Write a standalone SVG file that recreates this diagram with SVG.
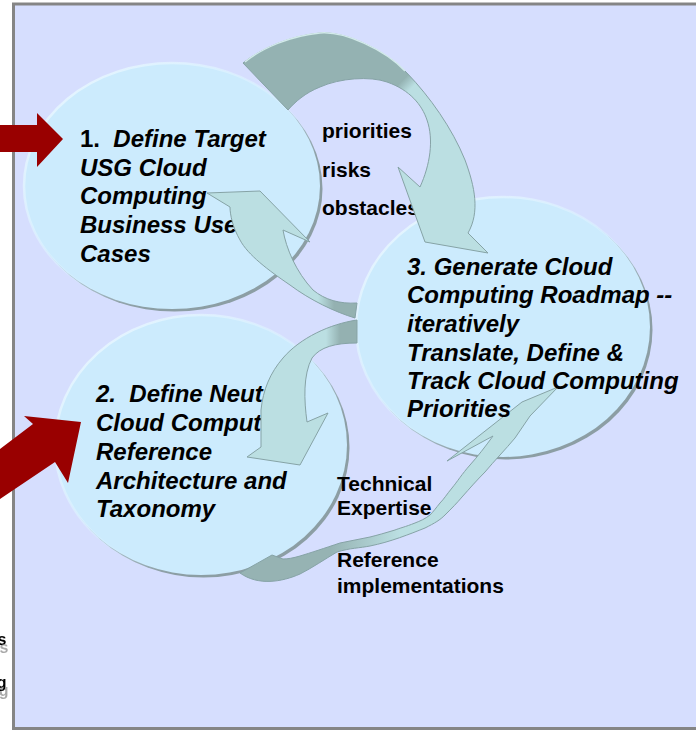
<svg xmlns="http://www.w3.org/2000/svg" width="696" height="730" viewBox="0 0 696 730">
  <style>
    .main { font-family: "Liberation Sans", Arial, sans-serif; font-size: 24px; font-weight: bold; font-style: italic; fill: #000; }
    .up { font-style: normal; }
    .lbl { font-family: "Liberation Sans", Arial, sans-serif; font-size: 21px; font-weight: bold; fill: #000; }
    .frag { font-family: "Liberation Sans", Arial, sans-serif; font-size: 16px; font-weight: bold; fill: #000; filter: url(#drop); }
    .shadow { fill: #8C9EA4; }
    .disc { fill: #CCEBFD; stroke: url(#rim); stroke-width: 2.5; }
    .red { fill: #990000; }
    .arrow { stroke: #86A3A6; stroke-width: 1; stroke-linejoin: round; }
  </style>
  <defs>
    <filter id="drop" x="-1" y="-1" width="3" height="3">
      <feOffset in="SourceAlpha" dx="2" dy="8" result="off"/>
      <feFlood flood-color="#A8A8A8"/>
      <feComposite in2="off" operator="in" result="sh"/>
      <feMerge><feMergeNode in="sh"/><feMergeNode in="SourceGraphic"/></feMerge>
    </filter>
    <linearGradient id="rim" x1="0" y1="0" x2="1" y2="1">
      <stop offset="0" stop-color="#EAF8FF" stop-opacity="1"/>
      <stop offset="0.45" stop-color="#DDF2FF" stop-opacity="0.6"/>
      <stop offset="0.7" stop-color="#CCEBFD" stop-opacity="0"/>
    </linearGradient>
    <linearGradient id="gTop" gradientUnits="userSpaceOnUse" x1="380" y1="50" x2="440" y2="110">
      <stop offset="0" stop-color="#94B2B2"/>
      <stop offset="0.44" stop-color="#94B2B2"/>
      <stop offset="0.58" stop-color="#BBDFE2"/>
      <stop offset="1" stop-color="#BBDFE2"/>
    </linearGradient>
    <linearGradient id="gA2" gradientUnits="userSpaceOnUse" x1="318" y1="0" x2="334" y2="0">
      <stop offset="0" stop-color="#BBDFE2"/>
      <stop offset="1" stop-color="#94B1B1"/>
    </linearGradient>
    <linearGradient id="gA3" gradientUnits="userSpaceOnUse" x1="326" y1="0" x2="340" y2="0">
      <stop offset="0" stop-color="#BBDFE2"/>
      <stop offset="1" stop-color="#94B1B1"/>
    </linearGradient>
    <linearGradient id="gBot" gradientUnits="userSpaceOnUse" x1="330" y1="0" x2="400" y2="0">
      <stop offset="0" stop-color="#96B3B3"/>
      <stop offset="1" stop-color="#BBDFE2"/>
    </linearGradient>
  </defs>

  <!-- frame -->
  <rect x="0" y="0" width="696" height="730" fill="#FFFFFF"/>
  <rect x="13.5" y="4" width="700" height="724.5" fill="#D6DEFE" stroke="#858585" stroke-width="3"/>

  <!-- fragments at left edge -->
  <g id="fragments">
    <text class="frag" x="6.5" y="645" text-anchor="end">s</text>
    <text class="frag" x="6.5" y="688" text-anchor="end">g</text>
  </g>

  <!-- node 1 -->
  <g id="node1">
    <ellipse class="shadow" cx="174.5" cy="188.5" rx="148" ry="123"/>
    <ellipse class="disc" cx="172" cy="186" rx="148" ry="123"/>
    <text class="main" xml:space="preserve"><tspan x="80" y="147"><tspan class="up">1.  </tspan>Define Target</tspan><tspan x="80" y="176">USG Cloud</tspan><tspan x="80" y="204">Computing</tspan><tspan x="80" y="233">Business Use</tspan><tspan x="80" y="262">Cases</tspan></text>
  </g>

  <!-- node 2 -->
  <g id="node2">
    <ellipse class="shadow" cx="203.5" cy="447.5" rx="146" ry="130"/>
    <ellipse class="disc" cx="201" cy="445" rx="146" ry="130"/>
    <text class="main" xml:space="preserve"><tspan x="96" y="402">2.  Define Neutral</tspan><tspan x="96" y="431">Cloud Computing</tspan><tspan x="96" y="460">Reference</tspan><tspan x="96" y="489">Architecture and</tspan><tspan x="96" y="517">Taxonomy</tspan></text>
  </g>

  <!-- node 3 shape -->
  <g id="node3">
    <ellipse class="shadow" cx="505.5" cy="329.5" rx="147" ry="130"/>
    <ellipse class="disc" cx="503" cy="327" rx="147" ry="130"/>
  </g>

  <!-- connector labels -->
  <g id="labels">
    <text class="lbl" x="322" y="138">priorities</text>
    <text class="lbl" x="322" y="177">risks</text>
    <text class="lbl" x="322" y="215">obstacles</text>
    <text class="lbl" x="337" y="491">Technical</text>
    <text class="lbl" x="337" y="515">Expertise</text>
    <text class="lbl" x="337" y="567">Reference</text>
    <text class="lbl" x="337" y="593">implementations</text>
  </g>

  <!-- connectors -->
  <g id="connectors">
    <!-- 3 -> 1 -->
    <path class="arrow" fill="url(#gA2)" d="M207,193 L260,191 L310,242 L283,230 C286,248 296,272 313,290 C325,300 340,304 357,303 L355,318 C335,312 310,300 290,285 C268,270 248,255 240,240 C233,228 230,215 230,207 Z"/>
    <!-- 3 -> 2 -->
    <path class="arrow" fill="url(#gA3)" d="M357,320 C330,324 300,338 283,358 C270,373 263,390 261,410 L261,447 L247,457 L300,465 L328,413 L307,422 C304,400 303,375 312,358 C320,347 335,343 357,343 Z"/>
    <!-- 1 -> 3 (top) -->
    <path class="arrow" fill="url(#gTop)" d="M243,63 C262,48 290,36 320,33 C345,31 385,50 407,73 C430,97 452,128 465,160 C475,187 480,212 468,233 L488,253 L425,242 L398,167 L420,187 C430,165 434,140 427,120 C422,105 410,90 387,82 C370,76 340,78 320,87 C305,93 295,102 288,110 Z"/>
    <path d="M245,62 C262,48 290,36 320,33 C345,31 385,50 405,71" fill="none" stroke="#D2EAEA" stroke-width="1.5"/>
    <!-- 2 -> 3 (bottom) -->
    <path class="arrow" fill="url(#gBot)" d="M240,573 C258,586 282,582 300,574 C312,568 325,559 337,552 C350,548 360,548 370,546 C390,542 410,534 425,528 C435,523 440,520 445,515 C452,508 457,503 462,497 C470,488 477,480 485,472 C495,460 505,450 515,438 L530,416 L558,387 L522,402 L447,461 L493,436 C485,447 478,456 470,465 C462,474 457,482 452,488 C447,494 444,499 440,503 C436,508 433,512 430,515 C425,519 420,521 415,523 C405,527 400,528 395,530 C385,533 378,535 370,537 C360,539 350,541 340,543 C325,548 310,553 300,556 C293,558 288,559 283,559 L272,555 Z"/>
  </g>

  <!-- node 3 text -->
  <g id="node3-text">
    <text class="main"><tspan x="407" y="275">3. Generate Cloud</tspan><tspan x="407" y="303">Computing Roadmap --</tspan><tspan x="407" y="332">iteratively</tspan><tspan x="407" y="361">Translate, Define &amp;</tspan><tspan x="407" y="389">Track Cloud Computing</tspan><tspan x="407" y="417">Priorities</tspan></text>
  </g>

  <!-- input arrows -->
  <g id="inputs">
    <path class="red" d="M0,125 L37,125 L37,113 L63,139 L37,167 L37,152 L0,152 Z"/>
    <path class="red" d="M81,422 L24,416 L33,424 L0,449 L0,499 L55,462 L68,483 Z"/>
  </g>
</svg>
